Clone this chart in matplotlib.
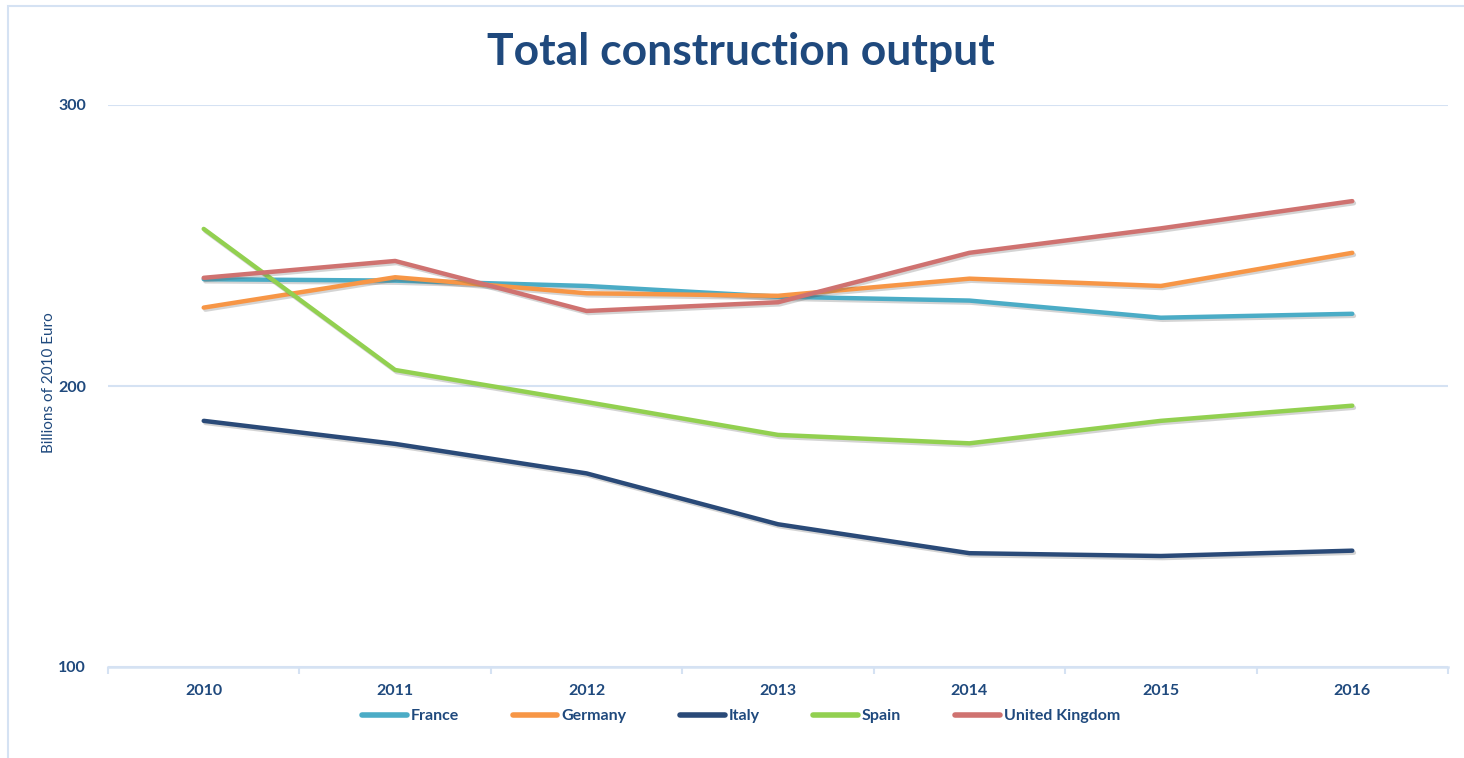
import matplotlib
matplotlib.use("Agg")
import matplotlib.pyplot as plt
import matplotlib.patheffects as pe
from matplotlib.patches import Rectangle

years = ["2010", "2011", "2012", "2013", "2014", "2015", "2016"]
france = [238.0, 237.5, 235.6, 231.8, 230.4, 224.3, 225.7]
germany = [227.9, 238.7, 233.0, 232.1, 238.2, 235.6, 247.4]
italy = [187.6, 179.4, 168.9, 150.8, 140.5, 139.5, 141.4]
spain = [255.9, 205.7, 194.3, 182.6, 179.6, 187.6, 193.0]
uk = [238.5, 244.5, 226.7, 229.8, 247.4, 256.1, 265.8]

series = [
    ("France", france, "#4BACC6"),
    ("Germany", germany, "#F79646"),
    ("Italy", italy, "#2A4A78"),
    ("Spain", spain, "#92D050"),
    ("United Kingdom", uk, "#CF7270"),
]

TXT = "#1F497D"
GRID = "#D5E2F3"
FONT = "Lato"

fig = plt.figure(figsize=(14.64, 7.58), dpi=100)
fig.patch.set_facecolor("white")
ax = fig.add_axes([108 / 1464, 1 - 667 / 758, (1448 - 108) / 1464, (667 - 105) / 758])

x = list(range(len(years)))
for name, vals, col in series:
    ax.plot(x, vals, color=col, lw=3.2, label=name, solid_capstyle="round",
            path_effects=[pe.SimpleLineShadow(offset=(1.2, -1.5), alpha=0.25, shadow_color="#555555"),
                          pe.Normal()])

ax.set_xlim(-0.5, 6.5)
ax.set_ylim(100, 300)
ax.set_yticks([100, 200, 300])
ax.set_xticks(x)
ax.set_xticklabels(years)
ax.set_xticks([i - 0.5 for i in range(8)], minor=True)
ax.tick_params(axis="x", which="major", length=0, pad=12)
ax.tick_params(axis="x", which="minor", length=5, width=1.5, color=GRID, direction="out")
ax.tick_params(axis="y", length=0, pad=16)
for lab in ax.get_xticklabels() + ax.get_yticklabels():
    lab.set_fontfamily(FONT)
    lab.set_fontweight("bold")
    lab.set_fontsize(11.5)
    lab.set_color(TXT)

ax.grid(axis="y", color=GRID, lw=1.5)
ax.set_axisbelow(True)
for s in ["top", "right", "left"]:
    ax.spines[s].set_visible(False)
ax.spines["bottom"].set_color(GRID)
ax.spines["bottom"].set_linewidth(1.8)

ax.set_ylabel("Billions of 2010 Euro", fontfamily=FONT, fontsize=11, color=TXT, labelpad=2)
ax.yaxis.set_label_coords(-52 / 1340, (667 - 383) / 562)

fig.text(741 / 1464, 1 - 52 / 758, "Total construction output", ha="center", va="center",
         fontfamily=FONT, fontweight="bold", fontsize=32, color=TXT)

leg = fig.legend(loc="center", bbox_to_anchor=(741 / 1464, 1 - 716 / 758), ncol=5, frameon=False,
                 handlelength=2.8, handletextpad=0.25, columnspacing=3.35,
                 prop={"family": FONT, "weight": "bold", "size": 11.5})
for t in leg.get_texts():
    t.set_color(TXT)
for h in leg.legend_handles:
    h.set_linewidth(4)
    h.set_path_effects([])

fig.add_artist(Rectangle((8 / 1464, -0.02), 1.02, 1 - 6 / 758 + 0.02, transform=fig.transFigure,
                         fill=False, edgecolor="#D5E2F3", lw=1.5))

fig.savefig("out.png", dpi=100, facecolor="white")
